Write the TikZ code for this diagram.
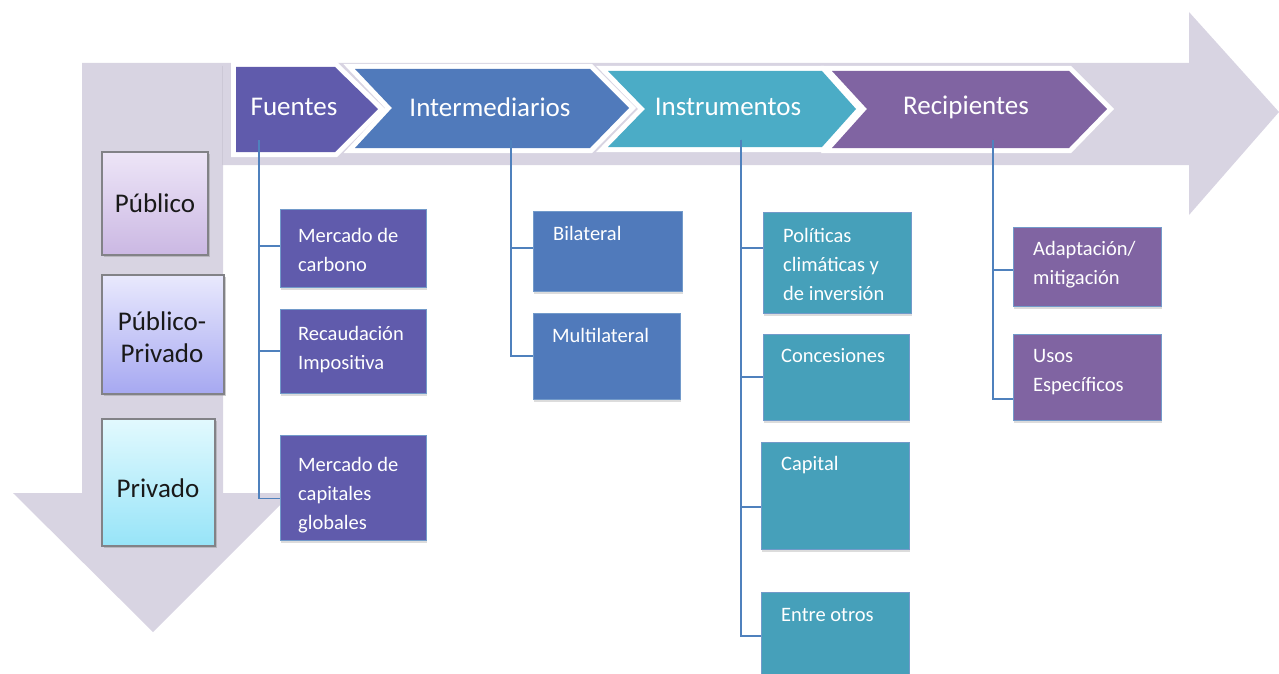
\documentclass[tikz,border=0pt]{standalone}
\usepackage{fontspec}
\setmainfont{Carlito}
\usetikzlibrary{shadows,calc}
\definecolor{arrowgray}{RGB}{216,212,226}
\definecolor{cF}{RGB}{96,91,172}
\definecolor{cI}{RGB}{80,122,187}
\definecolor{cN}{RGB}{75,172,198}
\definecolor{cNs}{RGB}{70,160,186}
\definecolor{cR}{RGB}{128,100,162}
\definecolor{lineblue}{RGB}{79,129,189}
\definecolor{boxgray}{RGB}{130,130,135}
\begin{document}
\begin{tikzpicture}[x=1pt,y=-1pt,
  whiteedge/.style={draw=white,line width=10pt,line join=miter},
  headtxt/.style={text=white,font=\fontsize{27}{30}\selectfont,inner sep=0pt},
  subbox/.style={fill=#1,draw=lineblue!80!white,line width=0.8pt,inner sep=0pt,outer sep=0pt,
    drop shadow={shadow xshift=1pt,shadow yshift=-3pt,fill=black!30,opacity=0.45}},
  subtxt/.style={text=white,font=\fontsize{20.5}{29}\selectfont,align=left,inner sep=0pt,anchor=west},
  sidebox/.style={draw=boxgray,line width=1.2pt,inner sep=0pt,outer sep=0pt,
    drop shadow={shadow xshift=1.5pt,shadow yshift=-2pt,fill=black!40,opacity=0.5}},
  sidetxt/.style={text=black!90,font=\fontsize{27}{32}\selectfont,align=center,inner sep=0pt},
  conn/.style={draw=lineblue,line width=1.3pt}]
\useasboundingbox (0,0) rectangle (1279,674);
% big gray arrows (one L-shaped shape)
\fill[arrowgray] (82,63) -- (1189,63) -- (1189,12) -- (1279,112) -- (1189,215) -- (1189,165)
  -- (223,165) -- (223,493) -- (292,493) -- (153,632) -- (13,493) -- (82,493) -- cycle;
\draw[arrowgray!85!black,line width=1pt,opacity=0.35] (222.5,66) -- (222.5,165);
% chevrons: white edges first
\draw[whiteedge] (236,67) -- (335,67) -- (378,109) -- (335,152) -- (236,152) -- cycle;
\draw[whiteedge] (355,69) -- (590,69) -- (629,108) -- (590,148) -- (355,148) -- (392,108) -- cycle;
\draw[whiteedge] (608,71) -- (822,71) -- (856,109) -- (822,147) -- (608,147) -- (645,109) -- cycle;
\draw[whiteedge] (832,71) -- (1069,71) -- (1107,109) -- (1069,148) -- (832,148) -- (867,109) -- cycle;
\fill[cF] (236,67) -- (335,67) -- (378,109) -- (335,152) -- (236,152) -- cycle;
\fill[cI] (355,69) -- (590,69) -- (629,108) -- (590,148) -- (355,148) -- (392,108) -- cycle;
\fill[cN] (608,71) -- (822,71) -- (856,109) -- (822,147) -- (608,147) -- (645,109) -- cycle;
\fill[cR] (832,71) -- (1069,71) -- (1107,109) -- (1069,148) -- (832,148) -- (867,109) -- cycle;
\node[headtxt] (hF) at (294,107) {Fuentes};
\node[headtxt] (hI) at (490,107) {Intermediarios};
\node[headtxt] (hN) at (728,107) {Instrumentos};
\node[headtxt] (hR) at (966,107) {Recipientes};
% side boxes
\node[sidebox,minimum width=106,minimum height=103,top color={rgb,255:red,237;green,229;blue,247},bottom color={rgb,255:red,203;green,184;blue,227}] (pub) at (155,203.5) {};
\node[sidebox,minimum width=122,minimum height=119,top color={rgb,255:red,233;green,233;blue,253},bottom color={rgb,255:red,166;green,168;blue,241}] (pp) at (163,334.5) {};
\node[sidebox,minimum width=113,minimum height=127,top color={rgb,255:red,226;green,249;blue,254},bottom color={rgb,255:red,151;green,228;blue,248}] (priv) at (158.5,482.5) {};
\node[sidetxt] (pubt) at (155,203) {Público};
\node[sidetxt] (ppt) at (162,337) {Público-\\Privado};
\node[sidetxt] (privt) at (158,488) {Privado};
% Fuentes sub boxes
\node[subbox=cF,minimum width=146,minimum height=78] (f1) at (353,248) {};
\node[subbox=cF,minimum width=146,minimum height=84] (f2) at (353,351) {};
\node[subbox=cF,minimum width=146,minimum height=105] (f3) at (353,487.5) {};
\node[subtxt] (f1t) at (298,250) {Mercado de\\carbono};
\node[subtxt] (f2t) at (298,350) {Recaudación\\Impositiva};
\node[subtxt] (f3t) at (298,495) {Mercado de\\capitales\\globales};
% Intermediarios sub boxes
\node[subbox=cI,minimum width=149,minimum height=80] (i1) at (607.5,251) {};
\node[subbox=cI,minimum width=147,minimum height=86] (i2) at (606.5,356) {};
\node[subtxt] (i1t) at (553,233) {Bilateral};
\node[subtxt] (i2t) at (552,335) {Multilateral};
% Instrumentos sub boxes
\node[subbox=cNs,minimum width=148,minimum height=101] (n1) at (837,262.5) {};
\node[subbox=cNs,minimum width=146,minimum height=86] (n2) at (836,377) {};
\node[subbox=cNs,minimum width=148,minimum height=107] (n3) at (835,495.5) {};
\node[subbox=cNs,minimum width=148,minimum height=90] (n4) at (835,637) {};
\node[subtxt] (n1t) at (783,264) {Políticas\\climáticas y\\de inversión};
\node[subtxt] (n2t) at (781,356) {Concesiones};
\node[subtxt] (n3t) at (781,465) {Capital};
\node[subtxt] (n4t) at (781,615) {Entre otros};
% Recipientes sub boxes
\node[subbox=cR,minimum width=148,minimum height=79] (r1) at (1087,266.5) {};
\node[subbox=cR,minimum width=148,minimum height=86] (r2) at (1087,377) {};
\node[subtxt] (r1t) at (1033,264.5) {Adaptación/\\mitigación};
\node[subtxt] (r2t) at (1033,372.5) {Usos\\Específicos};
% connectors
\coordinate (fs) at (259,140);
\coordinate (is) at (511,140);
\coordinate (ns) at (741,140);
\coordinate (rs) at (993,140);
\draw[conn] (fs) |- ([yshift=2pt]f1.west);
\draw[conn] (fs) |- (f2.west);
\draw[conn] (fs) |- ([yshift=-11pt]f3.west);
\draw[conn] (is) |- ([yshift=3pt]i1.west);
\draw[conn] (is) |- (i2.west);
\draw[conn] (ns) |- ([yshift=14.5pt]n1.west);
\draw[conn] (ns) |- (n2.west);
\draw[conn] (ns) |- ([yshift=-11.5pt]n3.west);
\draw[conn] (ns) |- ([yshift=1pt]n4.west);
\draw[conn] (rs) |- ([yshift=-3.5pt]r1.west);
\draw[conn] (rs) |- ([yshift=-22pt]r2.west);
\end{tikzpicture}
\end{document}
